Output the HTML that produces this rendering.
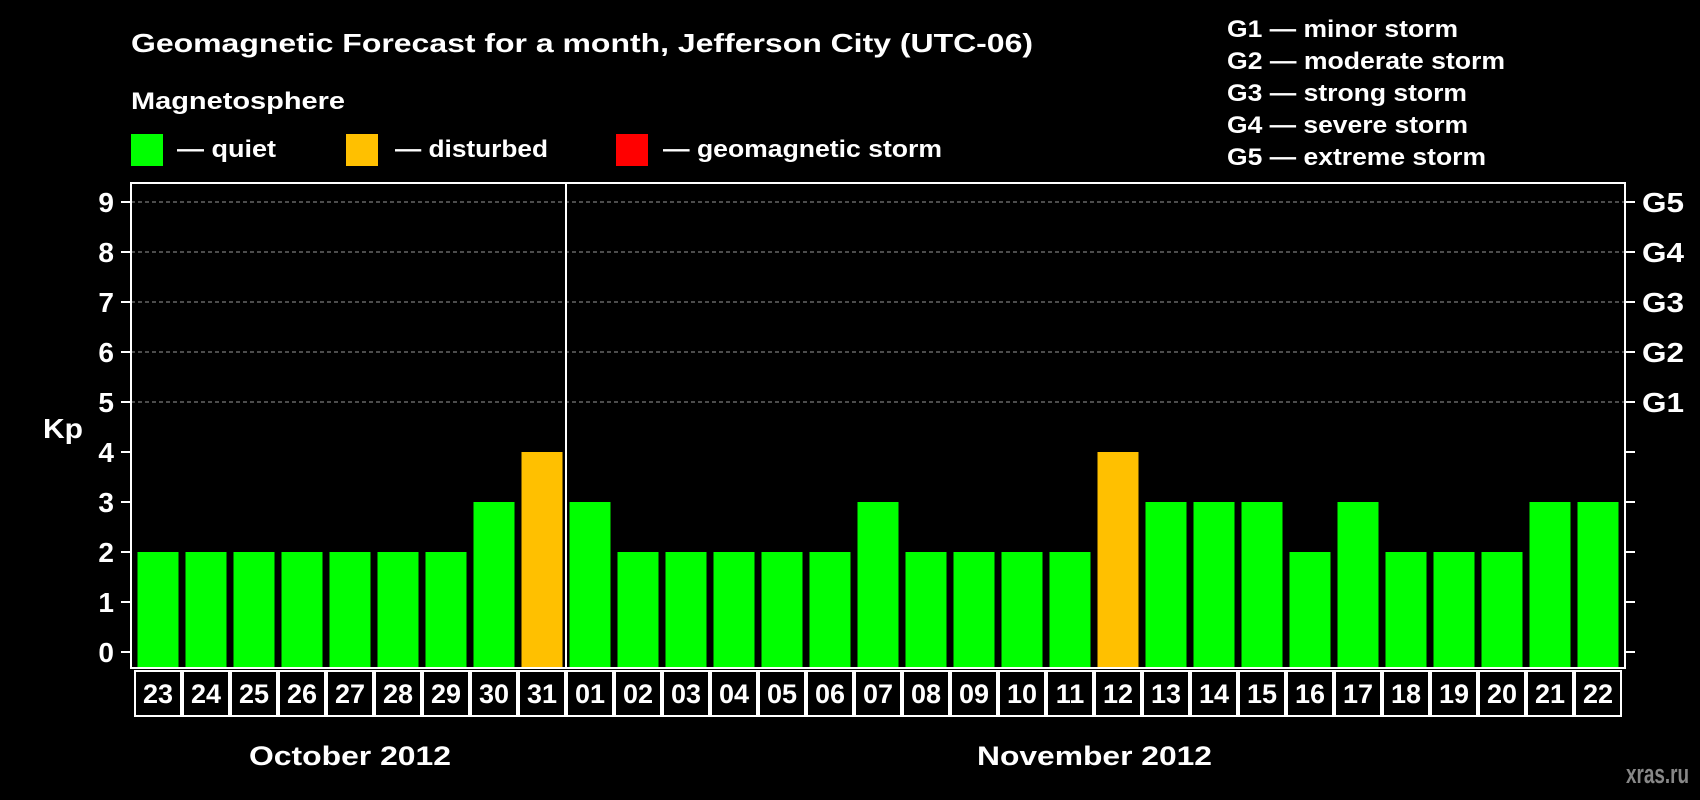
<!DOCTYPE html>
<html><head><meta charset="utf-8"><style>
body{margin:0;background:#000;width:1700px;height:800px;overflow:hidden}
svg{display:block;font-family:"Liberation Sans",Arial,sans-serif;font-weight:bold}
</style></head><body>
<svg id="c" width="1700" height="800">
<text x="131" y="52" fill="#fff" font-size="26" textLength="902" lengthAdjust="spacingAndGlyphs">Geomagnetic Forecast for a month, Jefferson City (UTC-06)</text>
<text x="131" y="109" fill="#fff" font-size="24" textLength="214" lengthAdjust="spacingAndGlyphs">Magnetosphere</text>
<rect x="131" y="134" width="32" height="32" fill="#00ff00"/>
<text x="177" y="157" fill="#fff" font-size="24" textLength="99" lengthAdjust="spacingAndGlyphs">— quiet</text>
<rect x="346" y="134" width="32" height="32" fill="#ffc000"/>
<text x="395" y="157" fill="#fff" font-size="24" textLength="153" lengthAdjust="spacingAndGlyphs">— disturbed</text>
<rect x="616" y="134" width="32" height="32" fill="#ff0000"/>
<text x="663" y="157" fill="#fff" font-size="24" textLength="279" lengthAdjust="spacingAndGlyphs">— geomagnetic storm</text>
<g fill="#fff" font-size="24">
<text x="1227" y="37" textLength="231" lengthAdjust="spacingAndGlyphs">G1 — minor storm</text>
<text x="1227" y="69" textLength="278" lengthAdjust="spacingAndGlyphs">G2 — moderate storm</text>
<text x="1227" y="101" textLength="240" lengthAdjust="spacingAndGlyphs">G3 — strong storm</text>
<text x="1227" y="133" textLength="241" lengthAdjust="spacingAndGlyphs">G4 — severe storm</text>
<text x="1227" y="165" textLength="259" lengthAdjust="spacingAndGlyphs">G5 — extreme storm</text>
</g>
<text x="43" y="438" fill="#fff" font-size="28" textLength="40" lengthAdjust="spacingAndGlyphs">Kp</text>
<text x="249" y="765" fill="#fff" font-size="27" textLength="202" lengthAdjust="spacingAndGlyphs">October 2012</text>
<text x="977" y="765" fill="#fff" font-size="27" textLength="235" lengthAdjust="spacingAndGlyphs">November 2012</text>
<text x="1626" y="783" fill="#888" font-size="27" textLength="63" lengthAdjust="spacingAndGlyphs">xras.ru</text>
<g id="plot"></g>
</svg>
<script>
const days = ["23","24","25","26","27","28","29","30","31","01","02","03","04","05","06","07","08","09","10","11","12","13","14","15","16","17","18","19","20","21","22"];
const kp = [2,2,2,2,2,2,2,3,4,3,2,2,2,2,2,3,2,2,2,2,4,3,3,3,2,3,2,2,2,3,3];
const yTicks = [0,1,2,3,4,5,6,7,8,9];
const gLabels = ["G1","G2","G3","G4","G5"];
const gLevels = [5,6,7,8,9];
const octCount = 9;

const NS="http://www.w3.org/2000/svg";
const g=document.getElementById('plot');
function mk(t,a){const e=document.createElementNS(NS,t);for(const k in a)e.setAttribute(k,a[k]);g.appendChild(e);return e;}
const L=131,T=183,R=1625,B=668,y0=652,unit=50;
const y=v=>y0-v*unit;
const x0=134,sep=566,end=1622;
const octW=(sep-x0)/octCount, novW=(end-sep)/(days.length-octCount);
function colX(i){return i<octCount? x0+i*octW : sep+(i-octCount)*novW;}
function colW(i){return i<octCount?octW:novW;}
gLevels.forEach((v,i)=>{
 const l=mk('line',{x1:L,x2:R,y1:y(v),y2:y(v),stroke:'#999','stroke-dasharray':'4,3','stroke-width':1});
 
 
 const t=mk('text',{x:1642,y:y(v)+10,fill:'#fff','font-size':28,textLength:42,lengthAdjust:'spacingAndGlyphs'});
 t.textContent=gLabels[i];
 
 
});
yTicks.forEach(v=>{
 const a=mk('line',{x1:L-10,x2:L,y1:y(v),y2:y(v),stroke:'#fff','stroke-width':2});
 
 
 const b=mk('line',{x1:R,x2:R+10,y1:y(v),y2:y(v),stroke:'#fff','stroke-width':2});
 
 
 const t=mk('text',{x:114,y:y(v)+10,fill:'#fff','font-size':28,'text-anchor':'end'});
 t.textContent=v;
 
 
});
kp.forEach((v,i)=>{
 const w=colW(i), x=colX(i)+3.5;
 const col=v>=5?'#ff0000':(v>=4?'#ffc000':'#00ff00');
 const r=mk('rect',{x:x,y:y(v),width:w-7,height:B-y(v),fill:col});
 
 
 const bx=mk('rect',{x:colX(i)+1,y:671,width:w-2,height:45,fill:'none',stroke:'#fff','stroke-width':2});
 
 
 const t=mk('text',{x:colX(i)+w/2,y:703,fill:'#fff','font-size':27,'text-anchor':'middle'});
 t.textContent=days[i];
 
 
});
const f=mk('rect',{x:L,y:T,width:R-L,height:B-T,fill:'none',stroke:'#fff','stroke-width':2});


const s=mk('line',{x1:sep,x2:sep,y1:T,y2:B,stroke:'#fff','stroke-width':2});


</script>
</body></html>
